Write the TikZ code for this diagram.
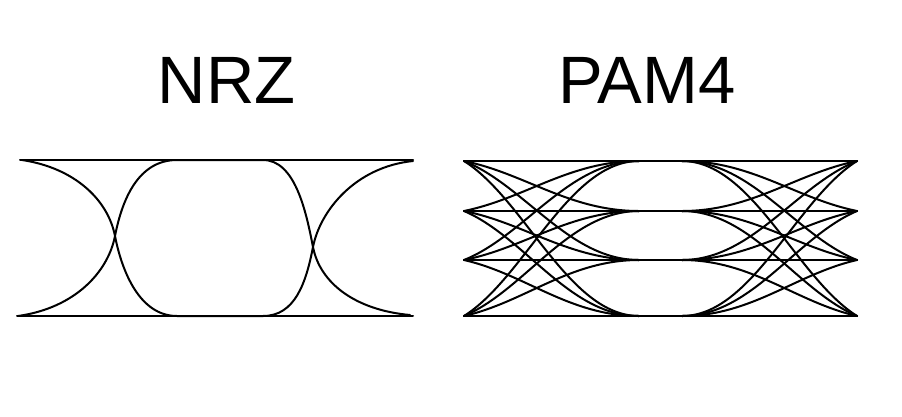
\documentclass[tikz,border=0pt]{standalone}
\usepackage{fontspec}
\setmainfont{Liberation Sans}
\begin{document}
\begin{tikzpicture}[x=1pt,y=-1pt,
  wave/.style={line width=2pt,line join=round,line cap=round},
  title/.style={font=\fontsize{67}{67}\selectfont,inner sep=0pt,anchor=base}]
\useasboundingbox (0,0) rectangle (902,416);
% titles
\node[title] (nrz) at (226.5,103) {NRZ};
\node[title] (pam) at (647,103) {PAM4};
% ---------- NRZ eye ----------
\coordinate (nTL) at (20,160);  \coordinate (nTR) at (413,160);
\coordinate (nBL) at (17,316);  \coordinate (nBR) at (413,316);
\draw[wave] (nTL) -- (nTR);
\draw[wave] (nBL) -- (nBR);
% top-left -> eye bottom -> top-right
\draw[wave] (22,160) .. controls (75,168) and (108,200) .. (115,236)
  .. controls (122,272) and (140,316) .. (177,316) -- (263,316)
  .. controls (295,316) and (306,283) .. (313,247)
  .. controls (320,211) and (355,167) .. (413,161);
% bottom-left -> eye top -> bottom-right
\draw[wave] (18,316) .. controls (75,308) and (108,272) .. (115,236)
  .. controls (122,200) and (138,160) .. (177,160) -- (263,160)
  .. controls (295,160) and (306,211) .. (313,247)
  .. controls (320,283) and (355,310) .. (410,315);
% ---------- PAM4 eye ----------
\foreach \y in {161,211,260,316} {
  \draw[wave] (464,\y) -- (857,\y);
}
\foreach \ya in {161,211,260,316} {
  \foreach \yb in {161,211,260,316} {
    \pgfmathsetmacro\yc{\ya+0.25*(\yb-\ya)}
    \pgfmathsetmacro\yd{\yb+0.75*(\ya-\yb)}
    \draw[wave] (464,\ya) .. controls (525.25,\yc) and (569,\yb) .. (639,\yb);
    \draw[wave] (682,\yb) .. controls (752,\yb) and (795.75,\yd) .. (857,\ya);
  }
}
\end{tikzpicture}
\end{document}
